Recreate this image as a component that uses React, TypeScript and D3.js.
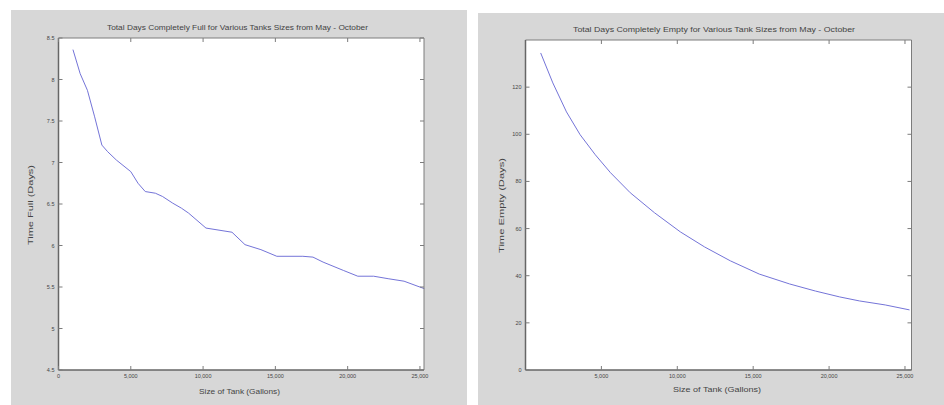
import React from "react";
import * as d3 from "d3";

// ---------- data ----------
const fullSizes = [1000, 1500, 2000, 2500, 3000, 3400, 4000, 5000, 5500, 6000, 6700, 7200, 7900, 8500, 9000, 10200, 12000, 12900, 14000, 15100, 16900, 17600, 18300, 19700, 20700, 21800, 22800, 23900, 25300];
const fullDays = [8.36, 8.07, 7.87, 7.55, 7.21, 7.13, 7.03, 6.89, 6.75, 6.65, 6.63, 6.59, 6.51, 6.45, 6.39, 6.21, 6.16, 6.01, 5.95, 5.87, 5.87, 5.86, 5.8, 5.7, 5.63, 5.63, 5.6, 5.57, 5.48];

const emptySizes = [1000, 1800, 2700, 3600, 4600, 5600, 6900, 8500, 10200, 11800, 13500, 15400, 17400, 19100, 20700, 22000, 23700, 25300];
const emptyDays = [134.5, 121.8, 109.5, 99.8, 91.3, 83.7, 75.2, 66.7, 58.6, 52.2, 46.3, 40.7, 36.5, 33.5, 31.0, 29.3, 27.6, 25.5];

const xTicks = [5000, 10000, 15000, 20000, 25000];
const fullYTicks = [4.5, 5, 5.5, 6, 6.5, 7, 7.5, 8, 8.5];
const emptyYTicks = [0, 20, 40, 60, 80, 100, 120];

const fullTitle = "Total Days Completely Full for Various Tanks Sizes from May - October";
const emptyTitle = "Total Days Completely Empty for Various Tank Sizes from May - October";
const xLabel = "Size of Tank (Gallons)";

type PanelProps = {
  panel: { x: number; y: number; w: number; h: number };
  plot: { l: number; r: number; t: number; b: number };
  xMax: number;
  yDomain: [number, number];
  yTicks: number[];
  xs: number[];
  ys: number[];
  title: string;
  titleBox: [number, number, number];
  yLabel: string;
  yLabelBox: [number, number, number];
  xLabelBox: [number, number, number];
  showZero: boolean;
};

const FONT = "'Liberation Sans', Arial, sans-serif";
const TXT = "#444";
const AX = "#7c7c7c";

function Panel(p: PanelProps) {
  const x = d3.scaleLinear().domain([0, p.xMax]).range([p.plot.l, p.plot.r]);
  const y = d3.scaleLinear().domain(p.yDomain).range([p.plot.b, p.plot.t]);
  const line = d3
    .line<number>()
    .x((_, i) => x(p.xs[i]))
    .y((d) => y(d));
  const fmt = d3.format(",");
  const tl = 4;
  const xt = p.showZero ? [0, ...xTicks] : xTicks;
  return (
    <g>
      <rect x={p.panel.x} y={p.panel.y} width={p.panel.w} height={p.panel.h} fill="#d7d7d7" />
      <rect x={p.plot.l} y={p.plot.t} width={p.plot.r - p.plot.l} height={p.plot.b - p.plot.t} fill="#fff" />
      <path d={line(p.ys) || ""} fill="none" stroke="#7474d8" strokeWidth={1} />
      <line x1={p.plot.l} x2={p.plot.r} y1={p.plot.t} y2={p.plot.t} stroke={AX} strokeWidth={1} />
      <line x1={p.plot.r} x2={p.plot.r} y1={p.plot.t} y2={p.plot.b} stroke={AX} strokeWidth={1} />
      <line x1={p.plot.l} x2={p.plot.r} y1={p.plot.b} y2={p.plot.b} stroke="#666" strokeWidth={1.5} />
      <line x1={p.plot.l} x2={p.plot.l} y1={p.plot.t} y2={p.plot.b} stroke="#666" strokeWidth={1.5} />
      {xt.map((t) => (
        <g key={"x" + t}>
          <line x1={x(t)} x2={x(t)} y1={p.plot.b} y2={p.plot.b - tl} stroke={AX} />
          <line x1={x(t)} x2={x(t)} y1={p.plot.t} y2={p.plot.t + tl} stroke={AX} />
          <text x={x(t)} y={p.plot.b + 8} fontSize={5.5} fill={TXT} textAnchor="middle" fontFamily={FONT}>
            {fmt(t)}
          </text>
        </g>
      ))}
      {p.yTicks.map((t) => (
        <g key={"y" + t}>
          <line x1={p.plot.l} x2={p.plot.l + tl} y1={y(t)} y2={y(t)} stroke={AX} />
          <line x1={p.plot.r} x2={p.plot.r - tl} y1={y(t)} y2={y(t)} stroke={AX} />
          <text x={p.plot.l - 4} y={y(t) + 2} fontSize={5.5} fill={TXT} textAnchor="end" fontFamily={FONT}>
            {String(t)}
          </text>
        </g>
      ))}
      <text
        x={p.titleBox[0]}
        y={p.titleBox[1]}
        fontSize={7.5}
        fill={TXT}
        fontFamily={FONT}
        textLength={p.titleBox[2]}
        lengthAdjust="spacingAndGlyphs"
      >
        {p.title}
      </text>
      <text
        x={p.xLabelBox[0]}
        y={p.xLabelBox[1]}
        fontSize={7}
        fill={TXT}
        fontFamily={FONT}
        textLength={p.xLabelBox[2]}
        lengthAdjust="spacingAndGlyphs"
      >
        {xLabel}
      </text>
      <text
        transform={`translate(${p.yLabelBox[0]},${p.yLabelBox[1]}) rotate(-90)`}
        fontSize={7}
        fill={TXT}
        fontFamily={FONT}
        textLength={p.yLabelBox[2]}
        lengthAdjust="spacingAndGlyphs"
      >
        {p.yLabel}
      </text>
    </g>
  );
}

export default function App() {
  return (
    <svg
      width={944}
      height={405}
      style={{ position: "absolute", left: 0, top: 0, background: "#fff" }}
    >
      <Panel
        panel={{ x: 11, y: 10, w: 456, h: 395 }}
        plot={{ l: 58.5, r: 424, t: 38, b: 370 }}
        xMax={25280}
        yDomain={[4.5, 8.5]}
        yTicks={fullYTicks}
        xs={fullSizes}
        ys={fullDays}
        title={fullTitle}
        titleBox={[107, 30, 261]}
        yLabel="Time Full (Days)"
        yLabelBox={[33, 245, 80]}
        xLabelBox={[199, 394, 81]}
        showZero={true}
      />
      <Panel
        panel={{ x: 478, y: 13, w: 466, h: 392 }}
        plot={{ l: 525.5, r: 911.5, t: 40, b: 370 }}
        xMax={25430}
        yDomain={[0, 140]}
        yTicks={emptyYTicks}
        xs={emptySizes}
        ys={emptyDays}
        title={emptyTitle}
        titleBox={[573, 32, 282]}
        yLabel="Time Empty (Days)"
        yLabelBox={[504, 253, 95]}
        xLabelBox={[673, 392, 88]}
        showZero={false}
      />
    </svg>
  );
}
